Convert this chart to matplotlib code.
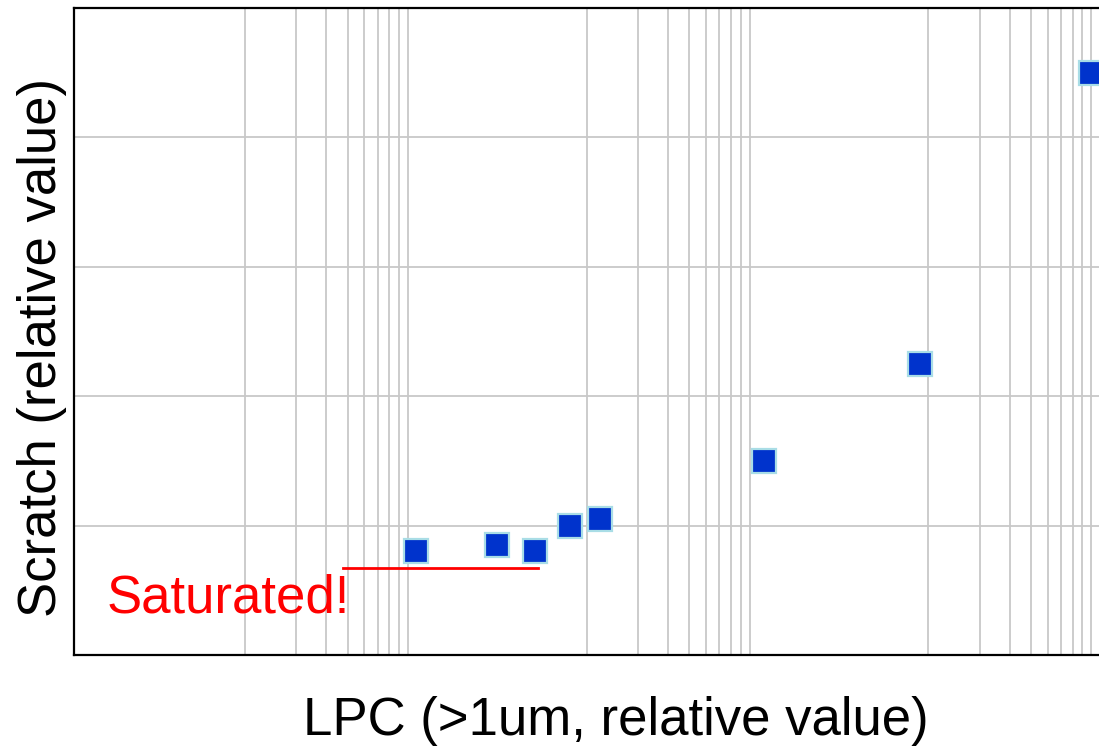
import matplotlib.pyplot as plt
from matplotlib.ticker import FixedLocator, NullFormatter
import numpy as np

plt.rcParams['font.family'] = ['Liberation Sans', 'DejaVu Sans']

# measured points (log x)
lpc = [10, 30, 50, 80, 120, 1100, 9000, 90000]
scratch = [0.80, 0.85, 0.80, 1.00, 1.05, 1.50, 2.25, 4.50]

# "saturated" marker line and its label
sat_x = [3.76, 52]
sat_y = [0.675, 0.675]
sat_text = "Saturated!"
sat_text_pos = (0.156, 0.33)

major_x = [1, 100, 10000]
minor_x = [k*m for m in major_x for k in range(2, 10)]
grid_y = [1, 2, 3, 4]

fig = plt.figure(figsize=(10.99, 7.46), dpi=100)
ax = fig.add_axes([74/1099, 1-655/746, 1025/1099, 647/746])

ax.set_xscale('log')
ax.set_xlim(0.1, 1e5)
ax.set_ylim(0, 5)

ax.xaxis.set_major_locator(FixedLocator(major_x))
ax.xaxis.set_minor_locator(FixedLocator(minor_x))
ax.yaxis.set_major_locator(FixedLocator(grid_y))
ax.xaxis.set_major_formatter(NullFormatter())
ax.xaxis.set_minor_formatter(NullFormatter())
ax.yaxis.set_major_formatter(NullFormatter())
ax.tick_params(which='both', length=0)

gc = '#c8c8c8'
ax.grid(True, which='major', axis='both', color=gc, lw=1.3)
ax.grid(True, which='minor', axis='x', color=gc, lw=1.3)
ax.set_axisbelow(True)

for s in ['left', 'bottom', 'top']:
    ax.spines[s].set_linewidth(1.6)
    ax.spines[s].set_color('black')
ax.spines['right'].set_visible(False)

ax.plot(lpc, scratch, ls='none', marker='s', ms=17, mfc='#0033cc',
        mec='#a9dde6', mew=1.6, clip_on=False, zorder=5)

ax.plot(sat_x, sat_y, color='red', lw=2, zorder=4)
ax.text(sat_text_pos[0], sat_text_pos[1], sat_text, color='red',
        fontsize=38, ha='left', va='baseline')

ax.set_xlabel("LPC (>1um, relative value)", fontsize=38)
ax.set_ylabel("Scratch (relative value)", fontsize=38)
ax.xaxis.label.set_va('center')
ax.yaxis.label.set_va('center')
ax.xaxis.set_label_coords(0.529, -0.102)
ax.yaxis.set_label_coords(-0.031, 0.475)

fig.savefig('out.png', dpi=100)
